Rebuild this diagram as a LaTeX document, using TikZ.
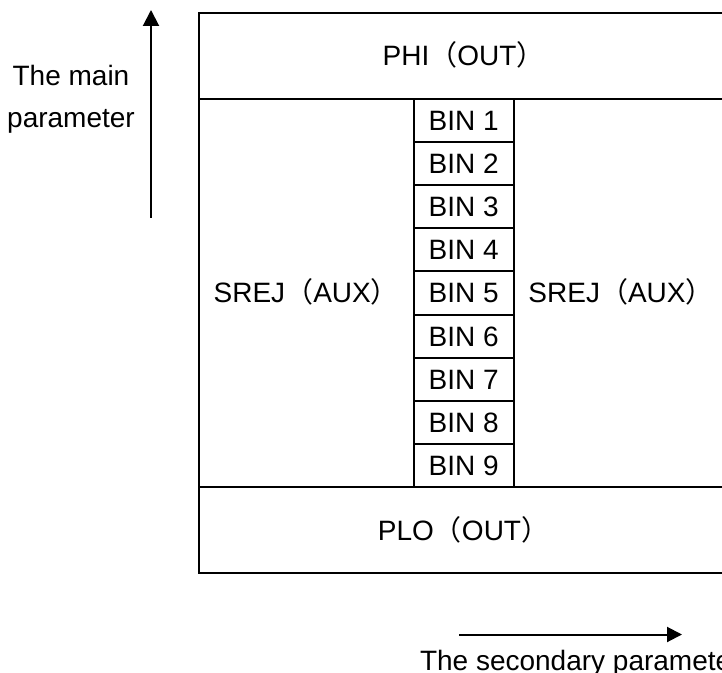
\documentclass[tikz,border=0pt]{standalone}
\usepackage{fontspec}
\setmainfont{Liberation Sans}
\newfontfamily\cjkfont{Noto Sans CJK SC}
\newcommand{\flp}{{\cjkfont （}}
\newcommand{\frp}{{\cjkfont ）}}
\usetikzlibrary{arrows.meta}
\begin{document}
\begin{tikzpicture}[x=0.5pt,y=-0.5pt,line width=1pt,
  txt/.style={font=\fontsize{14}{21}\selectfont,inner sep=0pt,text height=10pt,text depth=0pt},
  freetxt/.style={font=\fontsize{14}{21}\selectfont,inner sep=0pt},
  axarrow/.style={-{Triangle[length=8pt,width=8pt]}}]
\clip (0,0) rectangle (722,673);
\fill[white] (0,0) rectangle (722,673);
% outer frame and bands
\draw (199,13) rectangle (728,573);
\draw (199,99) -- (728,99);
\draw (199,487) -- (728,487);
% bins
\foreach \i in {1,...,9}{
  \draw (413.5,{99+43.11*(\i-1)}) rectangle (514,{99+43.11*\i});
  \node[txt] (bin\i) at (463.75,{99+43.11*(\i-0.5)}) {BIN \i};
}
\node[txt] (phi) at (463.5,56) {PHI\flp OUT\frp};
\node[txt] (plo) at (463.5,530) {PLO\flp OUT\frp};
\node[txt] (srejl) at (306.25,293) {SREJ\flp AUX\frp};
\node[txt] (srejr) at (621,293) {SREJ\flp AUX\frp};
% axes
\coordinate (mainfrom) at (151,218);
\coordinate (mainto) at (151,10);
\draw[axarrow] (mainfrom) -- (mainto);
\node[freetxt,align=center] (mainlbl) at (71,99) {The main\\parameter};
\coordinate (secfrom) at (459,634.5);
\coordinate (secto) at (682,634.5);
\draw[-{Triangle[length=7.5pt,width=7.5pt]}] (secfrom) -- (secto);
\node[freetxt,anchor=base west] (seclbl) at (419,670) {The secondary parameter};
\end{tikzpicture}
\end{document}
